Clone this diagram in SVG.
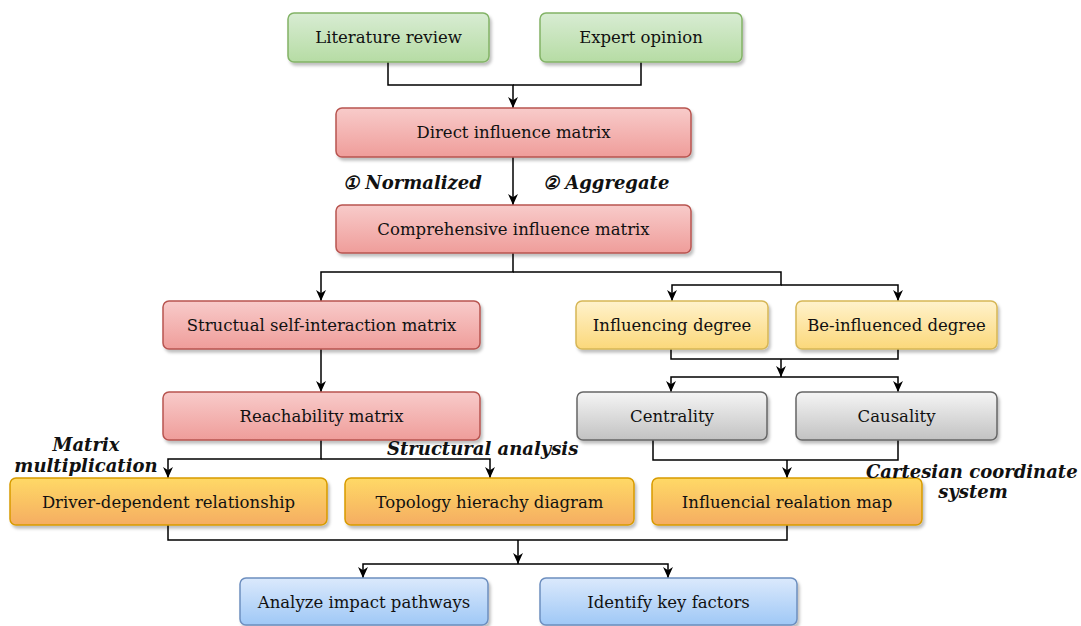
<svg xmlns="http://www.w3.org/2000/svg" width="1081" height="626" viewBox="0 0 1081 626">
<defs>
<linearGradient id="gGreen" x1="0" y1="0" x2="0" y2="1"><stop offset="0" stop-color="#d8ecd3"/><stop offset="1" stop-color="#b6dca4"/></linearGradient>
<linearGradient id="gRed" x1="0" y1="0" x2="0" y2="1"><stop offset="0" stop-color="#f8cbca"/><stop offset="1" stop-color="#ef9d9a"/></linearGradient>
<linearGradient id="gYellow" x1="0" y1="0" x2="0" y2="1"><stop offset="0" stop-color="#fff2cc"/><stop offset="1" stop-color="#fbd87a"/></linearGradient>
<linearGradient id="gGray" x1="0" y1="0" x2="0" y2="1"><stop offset="0" stop-color="#f5f5f5"/><stop offset="1" stop-color="#c2c2c2"/></linearGradient>
<linearGradient id="gOrange" x1="0" y1="0" x2="0" y2="1"><stop offset="0" stop-color="#ffd966"/><stop offset="1" stop-color="#f5ad62"/></linearGradient>
<linearGradient id="gBlue" x1="0" y1="0" x2="0" y2="1"><stop offset="0" stop-color="#dbe9fc"/><stop offset="1" stop-color="#9fc8f6"/></linearGradient>
<filter id="sh" x="-10%" y="-20%" width="120%" height="150%"><feDropShadow dx="2" dy="3" stdDeviation="1.5" flood-color="#000" flood-opacity="0.25"/></filter>
<marker id="arr" viewBox="0 0 10 10" refX="10" refY="5" markerWidth="11" markerHeight="11" markerUnits="userSpaceOnUse" orient="auto"><path d="M0,0.5 L10,5 L0,9.5 L3,5 z" fill="#000"/></marker>
</defs>
<style>
.box{stroke-width:1.5;filter:url(#sh)}
.green{fill:url(#gGreen);stroke:#82b366}
.red{fill:url(#gRed);stroke:#b85450}
.yellow{fill:url(#gYellow);stroke:#d6b656}
.gray{fill:url(#gGray);stroke:#666666}
.orange{fill:url(#gOrange);stroke:#d79b00}
.blue{fill:url(#gBlue);stroke:#6c8ebf}
.t{font-family:"DejaVu Serif","Liberation Serif",serif;font-size:16.5px;fill:#111;text-anchor:middle}
.lbl{font-family:"DejaVu Serif","Liberation Serif",serif;font-size:18px;font-weight:bold;font-style:italic;fill:#111}
.c{fill:none;stroke:#000;stroke-width:1.5}
.a{marker-end:url(#arr)}
</style>
<g id="connectors">
<path class="c a" d="M388,62 V85 H513 V108"/>
<path class="c" d="M641,62 V85 H513"/>
<path class="c a" d="M513,157 V205"/>
<path class="c a" d="M513,253 V272 H321 V301"/>
<path class="c a" d="M513,272 H781 V285 H672 V301"/>
<path class="c a" d="M781,285 H898 V301"/>
<path class="c a" d="M321,349 V392"/>
<path class="c" d="M671,349 V359 H898 V349"/>
<path class="c a" d="M781,359 V377"/>
<path class="c a" d="M781,377 H671 V392"/>
<path class="c a" d="M781,377 H898 V392"/>
<path class="c a" d="M321,440 V459 H168 V478"/>
<path class="c a" d="M321,459 H490 V478"/>
<path class="c" d="M653,440 V460 H898 V440"/>
<path class="c a" d="M787,460 V478"/>
<path class="c" d="M168,525 V540 H787 V525"/>
<path class="c a" d="M518,540 V564"/>
<path class="c a" d="M518,564 H363 V578"/>
<path class="c a" d="M518,564 H668 V578"/>
</g>
<g id="lit"><rect class="box green" x="288" y="13" width="201" height="49" rx="6"/><text class="t" x="388.5" y="43">Literature review</text></g>
<g id="expert"><rect class="box green" x="540" y="13" width="202" height="49" rx="6"/><text class="t" x="641" y="43">Expert opinion</text></g>
<g id="direct"><rect class="box red" x="336" y="108" width="355" height="49" rx="6"/><text class="t" x="513.5" y="138">Direct influence matrix</text></g>
<g id="comp"><rect class="box red" x="336" y="205" width="355" height="48" rx="6"/><text class="t" x="513.5" y="235">Comprehensive influence matrix</text></g>
<g id="ssim"><rect class="box red" x="163" y="301" width="317" height="48" rx="6"/><text class="t" x="321.5" y="331">Structual self-interaction matrix</text></g>
<g id="reach"><rect class="box red" x="163" y="392" width="317" height="48" rx="6"/><text class="t" x="321.5" y="422">Reachability matrix</text></g>
<g id="infl"><rect class="box yellow" x="576" y="301" width="192" height="48" rx="6"/><text class="t" x="672" y="331">Influencing degree</text></g>
<g id="beinfl"><rect class="box yellow" x="796" y="301" width="201" height="48" rx="6"/><text class="t" x="896.5" y="331">Be-influenced degree</text></g>
<g id="cent"><rect class="box gray" x="577" y="392" width="190" height="48" rx="6"/><text class="t" x="672" y="422">Centrality</text></g>
<g id="caus"><rect class="box gray" x="796" y="392" width="201" height="48" rx="6"/><text class="t" x="896.5" y="422">Causality</text></g>
<g id="driver"><rect class="box orange" x="10" y="478" width="317" height="47" rx="6"/><text class="t" x="168.5" y="508">Driver-dependent relationship</text></g>
<g id="topo"><rect class="box orange" x="345" y="478" width="289" height="47" rx="6"/><text class="t" x="489.5" y="508">Topology hierachy diagram</text></g>
<g id="irm"><rect class="box orange" x="652" y="478" width="270" height="47" rx="6"/><text class="t" x="787" y="508">Influencial realation map</text></g>
<g id="analyze"><rect class="box blue" x="240" y="578" width="248" height="47" rx="6"/><text class="t" x="364" y="608">Analyze impact pathways</text></g>
<g id="identify"><rect class="box blue" x="540" y="578" width="257" height="47" rx="6"/><text class="t" x="668.5" y="608">Identify key factors</text></g>
<g id="labels">
<text class="lbl" x="343" y="189">① Normalized</text>
<text class="lbl" x="543" y="189">② Aggregate</text>
<text class="lbl" x="86" y="451" text-anchor="middle">Matrix</text>
<text class="lbl" x="86" y="472" text-anchor="middle">multiplication</text>
<text class="lbl" x="387" y="455">Structural analysis</text>
<text class="lbl" x="866" y="478">Cartesian coordinate</text>
<text class="lbl" x="973" y="498" text-anchor="middle">system</text>
</g>
</svg>
